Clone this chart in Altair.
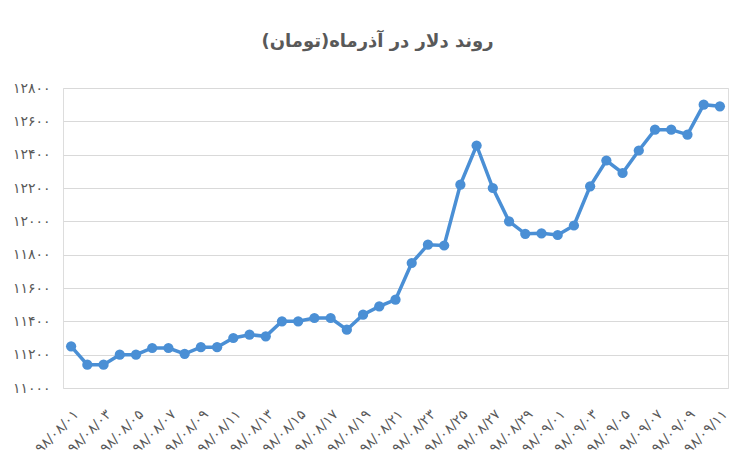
import json
import altair as alt
import pandas as pd

# Categories (Persian calendar dates, Aban 1 .. Azar 11, 1398)
dates = [
    "۹۸/۰۸/۰۱", "۹۸/۰۸/۰۲", "۹۸/۰۸/۰۳", "۹۸/۰۸/۰۴", "۹۸/۰۸/۰۵",
    "۹۸/۰۸/۰۶", "۹۸/۰۸/۰۷", "۹۸/۰۸/۰۸", "۹۸/۰۸/۰۹", "۹۸/۰۸/۱۰",
    "۹۸/۰۸/۱۱", "۹۸/۰۸/۱۲", "۹۸/۰۸/۱۳", "۹۸/۰۸/۱۴", "۹۸/۰۸/۱۵",
    "۹۸/۰۸/۱۶", "۹۸/۰۸/۱۷", "۹۸/۰۸/۱۸", "۹۸/۰۸/۱۹", "۹۸/۰۸/۲۰",
    "۹۸/۰۸/۲۱", "۹۸/۰۸/۲۲", "۹۸/۰۸/۲۳", "۹۸/۰۸/۲۴", "۹۸/۰۸/۲۵",
    "۹۸/۰۸/۲۶", "۹۸/۰۸/۲۷", "۹۸/۰۸/۲۸", "۹۸/۰۸/۲۹", "۹۸/۰۸/۳۰",
    "۹۸/۰۹/۰۱", "۹۸/۰۹/۰۲", "۹۸/۰۹/۰۳", "۹۸/۰۹/۰۴", "۹۸/۰۹/۰۵",
    "۹۸/۰۹/۰۶", "۹۸/۰۹/۰۷", "۹۸/۰۹/۰۸", "۹۸/۰۹/۰۹", "۹۸/۰۹/۱۰",
    "۹۸/۰۹/۱۱",
]

# Dollar rate (Toman)
values = [
    11250, 11140, 11140, 11200, 11200, 11240, 11240, 11205, 11245, 11245,
    11300, 11320, 11310, 11400, 11400, 11420, 11420, 11350, 11440, 11490,
    11530, 11750, 11860, 11855, 12220, 12455, 12200, 12000, 11925, 11928,
    11918, 11975, 12210, 12365, 12290, 12425, 12550, 12550, 12520, 12700,
    12690,
]

# Axis ticks
x_label_values = dates[::2]
y_ticks = [11000, 11200, 11400, 11600, 11800, 12000, 12200, 12400, 12600, 12800]
y_tick_labels = ["۱۱۰۰۰", "۱۱۲۰۰", "۱۱۴۰۰", "۱۱۶۰۰", "۱۱۸۰۰",
                 "۱۲۰۰۰", "۱۲۲۰۰", "۱۲۴۰۰", "۱۲۶۰۰", "۱۲۸۰۰"]

title_text = "روند دلار در آذرماه(تومان)"

df = pd.DataFrame({"date": dates, "value": values})

y_label_expr = (
    json.dumps(y_tick_labels, ensure_ascii=False)
    + "[indexof(" + json.dumps(y_ticks) + ", datum.value)]"
)

color = "#4A8FD5"
font = "DejaVu Sans"

chart = (
    alt.Chart(df)
    .mark_line(
        color=color,
        strokeWidth=3.5,
        point=alt.OverlayMarkDef(filled=True, size=105, color=color, opacity=1),
    )
    .encode(
        x=alt.X(
            "date:N",
            sort=dates,
            scale=alt.Scale(type="point", padding=0.5),
            axis=alt.Axis(
                values=x_label_values,
                labelAngle=-45,
                title=None,
                ticks=False,
                domain=False,
                grid=False,
                labelPadding=19,
                labelFontSize=14,
                labelColor="#595959",
                labelFont=font,
            ),
        ),
        y=alt.Y(
            "value:Q",
            scale=alt.Scale(domain=[11000, 12800], nice=False, zero=False),
            axis=alt.Axis(
                values=y_ticks,
                labelExpr=y_label_expr,
                title=None,
                ticks=False,
                domain=False,
                grid=True,
                gridColor="#d9d9d9",
                gridWidth=1,
                labelPadding=13,
                labelFontSize=14,
                labelColor="#595959",
                labelFont=font,
            ),
        ),
    )
    .properties(
        width=665,
        height=300,
        title=alt.TitleParams(
            title_text,
            fontSize=18,
            font=font,
            fontWeight="bold",
            color="#595959",
            anchor="middle",
            dx=-18,
            offset=30,
        ),
        autosize=alt.AutoSizeParams(type="none"),
        padding={"left": 55, "top": 80, "right": 14, "bottom": 70},
    )
    .configure_view(stroke=None)
    .configure(background="white")
)

chart.save("out.html", embed_options={"renderer": "svg", "actions": False})
